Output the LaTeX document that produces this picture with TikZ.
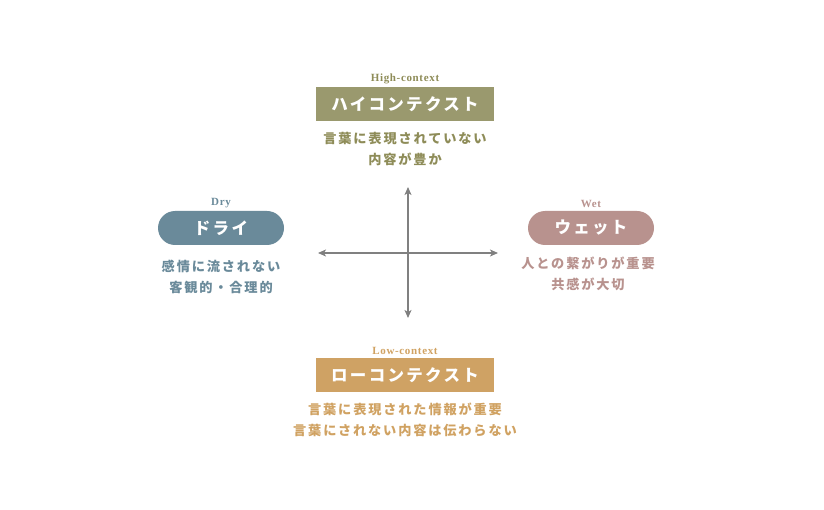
\documentclass[tikz,border=0pt]{standalone}
\usepackage{fontspec}
\usetikzlibrary{arrows.meta,positioning}
\newfontfamily\jpfont[LetterSpace=14]{Noto Sans CJK JP}
\newfontfamily\tagfont[LetterSpace=6]{Liberation Serif}
\definecolor{hcol}{HTML}{8E8C58}
\definecolor{hbox}{HTML}{9A996E}
\definecolor{dcol}{HTML}{6A8A9A}
\definecolor{wcol}{HTML}{B8928E}
\definecolor{lbox}{HTML}{CFA264}
\definecolor{lcol}{HTML}{D0A262}
\definecolor{axis}{HTML}{808080}
\tikzset{axtip/.tip={Stealth[length=8pt,width=7pt,inset=2pt]}}

\begin{document}
\begin{tikzpicture}[x=1pt,y=-1pt,node distance=2pt,
  sqbox/.style={minimum width=178pt,minimum height=34pt,inner sep=0pt,text=white,font=\jpfont\bfseries\fontsize{16.5}{18}\selectfont},
  pill/.style={sqbox,minimum width=126pt,rounded corners=17pt},
  tag/.style={inner sep=1pt,font=\tagfont\bfseries\fontsize{11}{12}\selectfont},
  desc/.style={align=center,inner sep=1pt,font=\jpfont\bfseries\fontsize{13.2}{21}\selectfont}]
\useasboundingbox (0,0) rectangle (824,510);
% high-context
\node[sqbox,fill=hbox] (high) at (405,104) {ハイコンテクスト};
\node[tag,text=hcol,above=of high] (hightag) {High-context};
\node[desc,text=hcol,below=of high,yshift=-8pt] (highdesc) {言葉に表現されていない\\内容が豊か};
% dry
\node[pill,fill=dcol] (dry) at (221,228) {ドライ};
\node[tag,text=dcol,above=of dry] (drytag) {Dry};
\node[desc,text=dcol,below=of dry,yshift=-12pt] (drydesc) {感情に流されない\\客観的・合理的};
% wet
\node[pill,fill=wcol] (wet) at (591,228) {ウェット};
\node[tag,text=wcol,above=of wet] (wettag) {Wet};
\node[desc,text=wcol,below=of wet,yshift=-9pt,xshift=-3pt] (wetdesc) {人との繋がりが重要\\共感が大切};
% low-context
\node[sqbox,fill=lbox] (low) at (405,375) {ローコンテクスト};
\node[tag,text=lcol,above=of low] (lowtag) {Low-context};
\node[desc,text=lcol,below=of low,yshift=-8pt] (lowdesc) {言葉に表現された情報が重要\\言葉にされない内容は伝わらない};
% axes
\coordinate (west) at (318,253);
\coordinate (east) at (498,253);
\coordinate (north) at (408,187);
\coordinate (south) at (408,318);
\draw[axis,line width=1.3pt,axtip-axtip] (west) -- (east);
\draw[axis,line width=1.3pt,axtip-axtip] (north) -- (south);
\end{tikzpicture}
\end{document}
